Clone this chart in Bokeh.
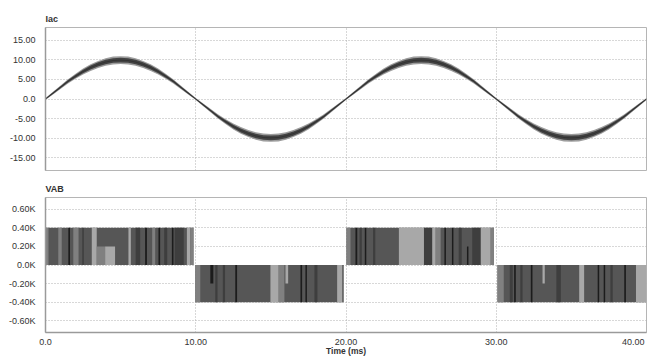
import numpy as np
from bokeh.plotting import figure
from bokeh.layouts import column
from bokeh.models import Range1d, FixedTicker, ColumnDataSource
from bokeh.embed import file_html
from bokeh.resources import INLINE

# ---------------- data ----------------
t_iac = [i * 0.5 for i in range(81)]
iac_center = [0.0, 1.5, 3.0, 4.5, 5.8, 7.0, 8.0, 8.8, 9.4, 9.8, 9.9, 9.8, 9.4, 8.8, 8.0, 7.0, 5.8, 4.5, 3.0, 1.5,
              0.0, -1.5, -3.0, -4.5, -5.8, -7.0, -8.0, -8.8, -9.4, -9.8, -9.9, -9.8, -9.4, -8.8, -8.0, -7.0, -5.8, -4.5, -3.0, -1.5,
              0.0, 1.5, 3.0, 4.5, 5.8, 7.0, 8.0, 8.8, 9.4, 9.8, 9.9, 9.8, 9.4, 8.8, 8.0, 7.0, 5.8, 4.5, 3.0, 1.5,
              0.0, -1.5, -3.0, -4.5, -5.8, -7.0, -8.0, -8.8, -9.4, -9.8, -9.9, -9.8, -9.4, -8.8, -8.0, -7.0, -5.8, -4.5, -3.0, -1.5,
              0.0]
iac_ripple = [0.25, 0.35, 0.45, 0.55, 0.65, 0.75, 0.85, 0.9, 0.95, 1.0, 1.0, 1.0, 0.95, 0.9, 0.85, 0.75, 0.65, 0.55, 0.45, 0.35,
              0.25, 0.35, 0.45, 0.55, 0.65, 0.75, 0.85, 0.9, 0.95, 1.0, 1.0, 1.0, 0.95, 0.9, 0.85, 0.75, 0.65, 0.55, 0.45, 0.35,
              0.25, 0.35, 0.45, 0.55, 0.65, 0.75, 0.85, 0.9, 0.95, 1.0, 1.0, 1.0, 0.95, 0.9, 0.85, 0.75, 0.65, 0.55, 0.45, 0.35,
              0.25, 0.35, 0.45, 0.55, 0.65, 0.75, 0.85, 0.9, 0.95, 1.0, 1.0, 1.0, 0.95, 0.9, 0.85, 0.75, 0.65, 0.55, 0.45, 0.35,
              0.25]

# VAB : half-cycle blocks (ms, V)
blk_start = [0.0, 9.97, 20.03, 30.08]
blk_end = [9.85, 19.85, 29.85, 39.97]
blk_level = [400, -400, 400, -400]

# VAB : switching-density stripes inside the blocks (start ms, end ms, level V, shade)
st_start = [0.00, 0.85, 1.52, 1.85, 2.45, 3.08, 3.41, 3.97, 5.52, 6.00, 6.63, 7.10, 7.52, 7.90, 8.41, 8.60, 9.41, 9.63,
            9.97, 10.97, 11.30, 11.80, 12.63, 14.97, 15.52, 15.97, 16.97, 17.30, 17.90, 19.41,
            20.03, 20.63, 20.90, 21.25, 21.80, 23.52, 25.19, 25.74, 25.97, 26.55, 27.05, 27.50, 28.05, 28.40, 28.97, 29.63,
            30.08, 30.90, 31.19, 31.60, 32.30, 33.08, 34.00, 35.52, 36.75, 37.15, 37.60, 38.52, 39.30]
st_end = [0.20, 1.08, 1.63, 2.20, 2.55, 3.41, 3.97, 4.63, 5.68, 6.30, 6.75, 7.30, 7.63, 8.10, 8.52, 9.20, 9.63, 9.85,
          10.30, 11.17, 11.45, 11.95, 12.75, 15.52, 15.90, 16.15, 17.08, 17.40, 18.10, 19.75,
          20.30, 20.75, 21.05, 21.35, 21.95, 25.19, 25.74, 25.97, 26.30, 26.65, 27.15, 27.70, 28.15, 28.97, 29.63, 29.85,
          30.50, 31.10, 31.30, 31.75, 32.41, 33.23, 34.30, 35.85, 36.85, 37.25, 37.75, 38.63, 39.97]
st_level = [400, 400, 400, 400, 400, 400, 200, 200, 400, 400, 400, 400, 400, 400, 400, 400, 400, 400,
            -400, -200, -400, -400, -400, -400, -400, -200, -400, -400, -400, -400,
            400, 400, 400, 400, 400, 400, 400, 400, 400, 400, 400, 400, 200, 400, 400, 400,
            -400, -400, -400, -400, -400, -200, -400, -400, -400, -400, -400, -400, -400]
st_shade = ["M", "M", "K", "M", "D", "L", "M", "L", "L", "D", "K", "M", "K", "D", "K", "D", "L", "M",
            "M", "K", "D", "D", "K", "L", "M", "L", "K", "K", "D", "L",
            "M", "K", "D", "K", "D", "L", "D", "L", "M", "K", "K", "D", "K", "D", "L", "M",
            "M", "D", "K", "D", "K", "L", "D", "L", "K", "K", "D", "K", "L"]

iac_ticks = [-15, -10, -5, 0, 5, 10, 15]
iac_labels = ["-15.00", "-10.00", "-5.00", "0.0", "5.00", "10.00", "15.00"]
vab_ticks = [-600, -400, -200, 0, 200, 400, 600]
vab_labels = ["-0.60K", "-0.40K", "-0.20K", "0.0K", "0.20K", "0.40K", "0.60K"]
time_ticks = [0, 10, 20, 30, 40]
time_labels = ["0.0", "10.00", "20.00", "30.00", "40.00"]
time_title = "Time (ms)"

# ---------------- styling helpers ----------------
FONT = "Liberation Sans"
TXT = "#333333"
GRID = "#b0b0b0"
AX = "#9a9a9a"
shade_color = {"L": "#a8a8a8", "M": "#808080", "D": "#3e3e3e", "K": "#1c1c1c"}
NBSP = "\u00a0"


def style(p, yticks, ylabels):
    p.outline_line_color = "#b5b5b5"
    p.outline_line_width = 1
    p.background_fill_color = "white"
    p.border_fill_color = "white"
    p.yaxis.ticker = FixedTicker(ticks=yticks)
    p.yaxis.major_label_overrides = {k: v for k, v in zip(yticks, ylabels)}
    p.yaxis.major_tick_out = 0
    p.yaxis.major_tick_in = 0
    p.yaxis.minor_tick_out = 0
    p.yaxis.minor_tick_in = 0
    p.yaxis.major_label_standoff = 10
    p.yaxis.major_label_text_font = FONT
    p.yaxis.major_label_text_font_size = "9px"
    p.yaxis.major_label_text_color = TXT
    p.yaxis.axis_line_color = AX
    p.yaxis.axis_line_width = 1.5
    p.ygrid.ticker = FixedTicker(ticks=yticks)
    p.xgrid.ticker = FixedTicker(ticks=[10, 20, 30, 40])
    for g in (p.xgrid, p.ygrid):
        g.grid_line_color = GRID
        g.grid_line_dash = "1 2"
        g.grid_line_width = 1
    p.title.text_font = FONT
    p.title.text_font_size = "9px"
    p.title.text_font_style = "bold"
    p.title.text_color = TXT
    p.title.align = "left"
    p.title.standoff = 7


# ---------------- top: Iac ----------------
p1 = figure(width=649, height=178, output_backend="svg", toolbar_location=None,
            x_range=Range1d(0, 40), y_range=Range1d(-18.2, 18.2), title="Iac",
            min_border_left=45, min_border_right=3, min_border_top=27, min_border_bottom=8)
style(p1, iac_ticks, iac_labels)
p1.xaxis.visible = False

c = np.array(iac_center)
r = np.array(iac_ripple)
src = ColumnDataSource(dict(t=t_iac, up=c + r, lo=c - r, up2=c + 0.6 * r, lo2=c - 0.6 * r, c=c))
p1.varea(x="t", y1="lo", y2="up", source=src, fill_color="#8c8c8c", fill_alpha=0.85)
p1.varea(x="t", y1="lo2", y2="up2", source=src, fill_color="#3a3a3a", fill_alpha=0.9)
p1.line(x="t", y="c", source=src, line_color="#222222", line_width=1, line_alpha=0.5)

# ---------------- bottom: VAB ----------------
p2 = figure(width=649, height=180, output_backend="svg", toolbar_location=None,
            x_range=Range1d(0, 40), y_range=Range1d(-725, 725), title="VAB",
            min_border_left=45, min_border_right=3, min_border_top=19, min_border_bottom=24)
style(p2, vab_ticks, vab_labels)
# last tick label is kept inside the page (as in the reference) by padding it on the right
labels_fit = list(time_labels)
labels_fit[-1] = labels_fit[-1] + NBSP * 2
p2.xaxis.ticker = FixedTicker(ticks=time_ticks)
p2.xaxis.major_label_overrides = {k: v for k, v in zip(time_ticks, labels_fit)}
p2.xaxis.major_tick_out = 0
p2.xaxis.major_tick_in = 0
p2.xaxis.minor_tick_out = 0
p2.xaxis.minor_tick_in = 0
p2.xaxis.major_label_standoff = 4
p2.xaxis.major_label_text_font = FONT
p2.xaxis.major_label_text_font_size = "9px"
p2.xaxis.major_label_text_color = TXT
p2.xaxis.axis_line_color = AX
p2.xaxis.axis_line_width = 1.5
p2.xaxis.axis_label = time_title
p2.xaxis.axis_label_standoff = -4
p2.xaxis.axis_label_text_font = FONT
p2.xaxis.axis_label_text_font_size = "8.5px"
p2.xaxis.axis_label_text_font_style = "bold"
p2.xaxis.axis_label_text_color = TXT

p2.quad(left=blk_start, right=blk_end, bottom=[0] * len(blk_start), top=blk_level,
        fill_color="#565656", line_color=None)
p2.quad(left=st_start, right=st_end, bottom=[0] * len(st_start), top=st_level,
        fill_color=[shade_color[s] for s in st_shade], line_color=None)

layout = column(p1, p2, spacing=0)
open("out.html", "w").write(file_html(layout, INLINE))
